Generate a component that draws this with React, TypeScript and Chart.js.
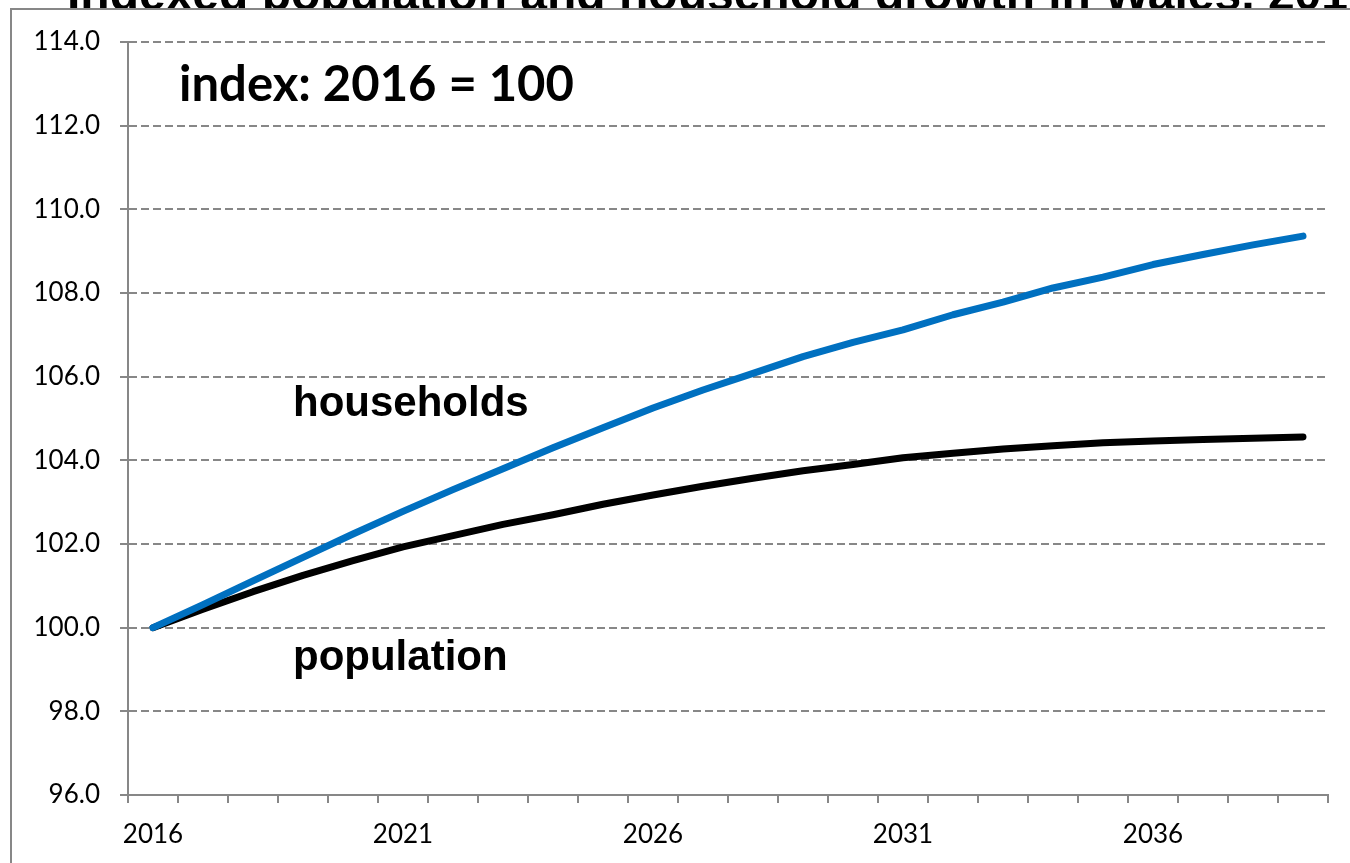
import React, { useEffect, useRef } from 'react';
import { Chart, registerables } from 'chart.js';

Chart.register(...registerables);

const years = [
  '2016', '2017', '2018', '2019', '2020', '2021', '2022', '2023', '2024', '2025', '2026', '2027',
  '2028', '2029', '2030', '2031', '2032', '2033', '2034', '2035', '2036', '2037', '2038', '2039',
];

const households = [
  100.0, 100.55, 101.12, 101.68, 102.24, 102.78, 103.3, 103.8, 104.3, 104.78, 105.25, 105.68,
  106.08, 106.48, 106.82, 107.12, 107.48, 107.78, 108.12, 108.38, 108.68, 108.92, 109.15, 109.36,
];

const population = [
  100.0, 100.44, 100.86, 101.25, 101.6, 101.93, 102.2, 102.47, 102.7, 102.95, 103.17, 103.38,
  103.57, 103.75, 103.9, 104.06, 104.17, 104.27, 104.35, 104.42, 104.46, 104.5, 104.53, 104.56,
];

const yMin = 96;
const yMax = 114;
const yStep = 2;
const labelEvery = 5;

const titleText = 'Indexed population and household growth in Wales, 2016-2039';
const indexNote = 'index: 2016 = 100';
const householdsLabel = 'households';
const populationLabel = 'population';

const GRID = '#878787';

const decorPlugin = {
  id: 'decor',
  beforeDraw(chart: any) {
    const ctx = chart.ctx;
    const w = chart.width;
    const h = chart.height;
    ctx.save();
    ctx.fillStyle = '#ffffff';
    ctx.fillRect(0, 0, w, h);
    // title (partly hidden behind chart frame)
    ctx.fillStyle = '#000000';
    ctx.font = 'bold 48px "Liberation Sans", Arial, sans-serif';
    ctx.textAlign = 'left';
    ctx.textBaseline = 'alphabetic';
    ctx.fillText(titleText, 67, 10);
    // chart frame
    ctx.fillStyle = '#ffffff';
    ctx.fillRect(11, 9, w - 11, h - 9);
    ctx.strokeStyle = GRID;
    ctx.lineWidth = 2;
    ctx.beginPath();
    ctx.moveTo(11, h);
    ctx.lineTo(11, 9);
    ctx.lineTo(w, 9);
    ctx.stroke();
    ctx.restore();
  },
  afterDraw(chart: any) {
    const ctx = chart.ctx;
    const xs = chart.scales.x;
    const ys = chart.scales.y;
    ctx.save();
    ctx.fillStyle = '#000000';
    ctx.textAlign = 'left';
    ctx.textBaseline = 'alphabetic';
    ctx.font = 'bold 49px Lato, "Noto Sans", sans-serif';
    ctx.fillText(indexNote, xs.getPixelForValue(0.52), ys.getPixelForValue(112.58));
    ctx.font = 'bold 42px "Liberation Sans", Arial, sans-serif';
    ctx.fillText(householdsLabel, xs.getPixelForValue(2.8), ys.getPixelForValue(105.07));
    ctx.fillText(populationLabel, xs.getPixelForValue(2.8), ys.getPixelForValue(99.0));
    ctx.restore();
  },
};

export default function App() {
  const ref = useRef<HTMLCanvasElement | null>(null);

  useEffect(() => {
    document.body.style.margin = '0';
    const canvas = ref.current;
    if (!canvas) return;
    const chart = new Chart(canvas, {
      type: 'line',
      data: {
        labels: years,
        datasets: [
          {
            label: householdsLabel,
            data: households,
            borderColor: '#0070C0',
            backgroundColor: '#0070C0',
            borderWidth: 7,
            pointRadius: 0,
            tension: 0,
            borderCapStyle: 'round',
            borderJoinStyle: 'round',
          },
          {
            label: populationLabel,
            data: population,
            borderColor: '#000000',
            backgroundColor: '#000000',
            borderWidth: 7,
            pointRadius: 0,
            tension: 0,
            borderCapStyle: 'round',
            borderJoinStyle: 'round',
          },
        ],
      },
      options: {
        animation: false,
        responsive: false,
        devicePixelRatio: 1,
        layout: { padding: { top: 42, right: 22, left: 0, bottom: 0 } },
        plugins: {
          legend: { display: false },
          tooltip: { enabled: false },
          title: { display: false },
        },
        scales: {
          x: {
            type: 'category',
            offset: true,
            afterFit: (scale: any) => {
              scale.height = 68;
            },
            grid: {
              offset: true,
              drawOnChartArea: false,
              drawTicks: true,
              tickLength: 8,
              tickColor: GRID,
              tickWidth: 2,
              color: GRID,
              lineWidth: 2,
            },
            border: { display: true, color: GRID, width: 2 },
            ticks: {
              autoSkip: false,
              maxRotation: 0,
              minRotation: 0,
              padding: 16,
              color: '#000000',
              font: { family: 'Lato', size: 26 },
              callback: (_v: any, i: number) => (i % labelEvery === 0 ? years[i] : ''),
            },
          },
          y: {
            min: yMin,
            max: yMax,
            afterFit: (scale: any) => {
              scale.width = 128;
            },
            grid: {
              color: GRID,
              lineWidth: 2,
              drawTicks: true,
              tickLength: 8,
              tickColor: GRID,
              tickWidth: 2,
              tickBorderDash: [],
            },
            border: { display: true, color: GRID, width: 2, dash: [8, 4] },
            ticks: {
              stepSize: yStep,
              padding: 20,
              color: '#000000',
              font: { family: 'Lato', size: 26 },
              callback: (v: any) => Number(v).toFixed(1),
            },
          },
        },
      },
      plugins: [decorPlugin],
    } as any);
    return () => chart.destroy();
  }, []);

  return (
    <div style={{ width: 1350, height: 863 }}>
      <canvas ref={ref} width={1350} height={863} style={{ display: 'block', width: 1350, height: 863 }} />
    </div>
  );
}
